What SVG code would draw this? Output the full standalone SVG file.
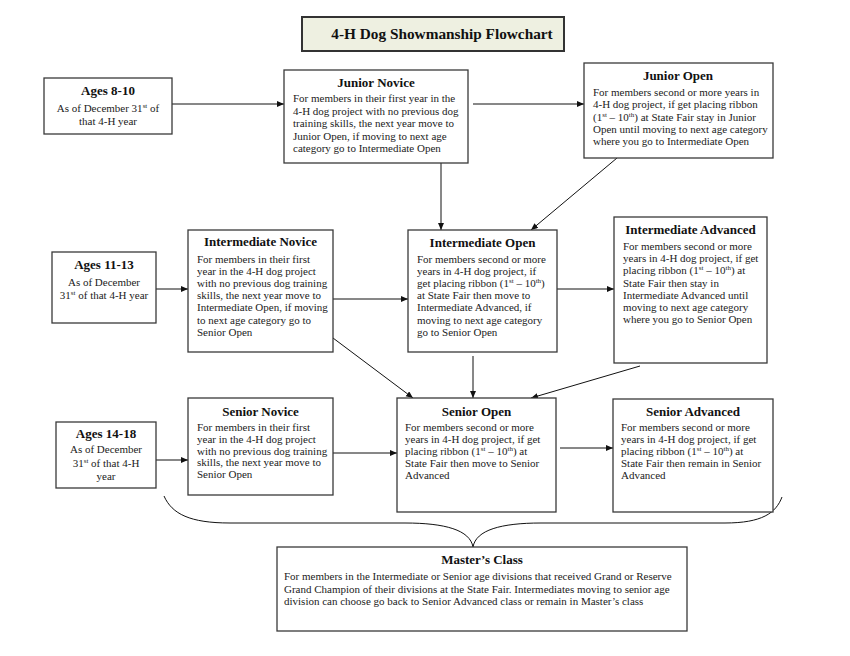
<svg xmlns="http://www.w3.org/2000/svg" width="850" height="656" viewBox="0 0 850 656">
<style>
.box{fill:#fff;stroke:#3a3a3a;stroke-width:1.3}
.t{font-family:"Liberation Serif","Times New Roman",serif;font-weight:bold;font-size:13px;fill:#111;text-anchor:middle}
.b{font-family:"Liberation Serif","Times New Roman",serif;font-size:11px;fill:#222}
.c{text-anchor:middle}
.s{font-size:7px}
.ln{stroke:#111;stroke-width:1;fill:none}
</style>
<defs>
<marker id="ah" markerUnits="userSpaceOnUse" markerWidth="8" markerHeight="7" refX="7" refY="3" orient="auto">
<path d="M0,0 L7,3 L0,6 z" fill="#111"/>
</marker>
</defs>
<rect width="850" height="656" fill="#fff"/>

<g id="title">
<rect x="302" y="17" width="262" height="34" fill="#eef0e1" stroke="#333" stroke-width="2"/>
<text x="442" y="39" class="t" style="font-size:15.3px">4-H Dog Showmanship Flowchart</text>
</g>

<g id="connectors">
<line class="ln" x1="172" y1="104" x2="284" y2="104" marker-end="url(#ah)"/>
<line class="ln" x1="473" y1="104" x2="584" y2="104" marker-end="url(#ah)"/>
<line class="ln" x1="441" y1="163" x2="441" y2="230" marker-end="url(#ah)"/>
<line class="ln" x1="617" y1="158" x2="531" y2="230" marker-end="url(#ah)"/>
<line class="ln" x1="156" y1="289" x2="188" y2="289" marker-end="url(#ah)"/>
<line class="ln" x1="333" y1="299" x2="408" y2="299" marker-end="url(#ah)"/>
<line class="ln" x1="557" y1="289" x2="614" y2="289" marker-end="url(#ah)"/>
<line class="ln" x1="333" y1="338" x2="413" y2="398" marker-end="url(#ah)"/>
<line class="ln" x1="473" y1="356" x2="473" y2="398" marker-end="url(#ah)"/>
<line class="ln" x1="640" y1="366" x2="531" y2="398" marker-end="url(#ah)"/>
<line class="ln" x1="156" y1="460" x2="188" y2="460" marker-end="url(#ah)"/>
<line class="ln" x1="333" y1="453" x2="397" y2="453" marker-end="url(#ah)"/>
<line class="ln" x1="560" y1="448" x2="613" y2="448" marker-end="url(#ah)"/>
<path class="ln" d="M164,496 C172,514 190,523 230,523 L405,523 C445,523 470,530 473,547 C476,530 501,523 541,523 L725,523 C762,523 776,513 782,497"/>
</g>

<g id="ages-8-10">
<rect class="box" x="44" y="78" width="128" height="56"/>
<text x="108" y="95" class="t">Ages 8-10</text>
<text class="b c" x="108" y="112">As of December 31<tspan class="s" dy="-4">st</tspan><tspan dy="4"> of</tspan></text>
<text class="b c" x="108" y="125">that 4-H year</text>
</g>

<g id="junior-novice">
<rect class="box" x="284" y="70" width="184" height="93"/>
<text x="376" y="87" class="t">Junior Novice</text>
<text class="b" x="293" y="102">For members in their first year in the</text>
<text class="b" x="293" y="114.5">4-H dog project with no previous dog</text>
<text class="b" x="293" y="127">training skills, the next year move to</text>
<text class="b" x="293" y="139.5">Junior Open, if moving to next age</text>
<text class="b" x="293" y="152">category go to Intermediate Open</text>
</g>

<g id="junior-open">
<rect class="box" x="584" y="63" width="189" height="95"/>
<text x="678" y="80" class="t">Junior Open</text>
<text class="b" x="593" y="96">For members second or more years in</text>
<text class="b" x="593" y="108.3">4-H dog project, if get placing ribbon</text>
<text class="b" x="593" y="120.6">(1<tspan class="s" dy="-4">st</tspan><tspan dy="4"> – 10</tspan><tspan class="s" dy="-4">th</tspan><tspan dy="4">) at State Fair stay in Junior</tspan></text>
<text class="b" x="593" y="132.9">Open until moving to next age category</text>
<text class="b" x="593" y="145.2">where you go to Intermediate Open</text>
</g>

<g id="ages-11-13">
<rect class="box" x="52" y="252" width="104" height="71"/>
<text x="104" y="269" class="t">Ages 11-13</text>
<text class="b c" x="104" y="286">As of December</text>
<text class="b c" x="104" y="299">31<tspan class="s" dy="-4">st</tspan><tspan dy="4"> of that 4-H year</tspan></text>
</g>

<g id="intermediate-novice">
<rect class="box" x="188" y="230" width="145" height="122"/>
<text x="260.5" y="246" class="t">Intermediate Novice</text>
<text class="b" x="197" y="262.5">For members in their first</text>
<text class="b" x="197" y="274.7">year in the 4-H dog project</text>
<text class="b" x="197" y="286.9">with no previous dog training</text>
<text class="b" x="197" y="299.1">skills, the next year move to</text>
<text class="b" x="197" y="311.3">Intermediate Open, if moving</text>
<text class="b" x="197" y="323.5">to next age category go to</text>
<text class="b" x="197" y="335.7">Senior Open</text>
</g>

<g id="intermediate-open">
<rect class="box" x="408" y="230" width="149" height="122"/>
<text x="482.5" y="247" class="t">Intermediate Open</text>
<text class="b" x="417" y="262.5">For members second or more</text>
<text class="b" x="417" y="274.7">years in 4-H dog project, if</text>
<text class="b" x="417" y="286.9">get placing ribbon (1<tspan class="s" dy="-4">st</tspan><tspan dy="4"> – 10</tspan><tspan class="s" dy="-4">th</tspan><tspan dy="4">)</tspan></text>
<text class="b" x="417" y="299.1">at State Fair then move to</text>
<text class="b" x="417" y="311.3">Intermediate Advanced, if</text>
<text class="b" x="417" y="323.5">moving to next age category</text>
<text class="b" x="417" y="335.7">go to Senior Open</text>
</g>

<g id="intermediate-advanced">
<rect class="box" x="614" y="217" width="153" height="146"/>
<text x="690.5" y="234" class="t">Intermediate Advanced</text>
<text class="b" x="623" y="250">For members second or more</text>
<text class="b" x="623" y="262.2">years in 4-H dog project, if get</text>
<text class="b" x="623" y="274.4">placing ribbon (1<tspan class="s" dy="-4">st</tspan><tspan dy="4"> – 10</tspan><tspan class="s" dy="-4">th</tspan><tspan dy="4">) at</tspan></text>
<text class="b" x="623" y="286.6">State Fair then stay in</text>
<text class="b" x="623" y="298.8">Intermediate Advanced until</text>
<text class="b" x="623" y="311">moving to next age category</text>
<text class="b" x="623" y="323.2">where you go to Senior Open</text>
</g>

<g id="ages-14-18">
<rect class="box" x="56" y="422" width="100" height="66"/>
<text x="106" y="438" class="t">Ages 14-18</text>
<text class="b c" x="106" y="453">As of December</text>
<text class="b c" x="106" y="466.5">31<tspan class="s" dy="-4">st</tspan><tspan dy="4"> of that 4-H</tspan></text>
<text class="b c" x="106" y="480">year</text>
</g>

<g id="senior-novice">
<rect class="box" x="188" y="398" width="145" height="97"/>
<text x="260.5" y="416" class="t">Senior Novice</text>
<text class="b" x="197" y="431">For members in their first</text>
<text class="b" x="197" y="442.8">year in the 4-H dog project</text>
<text class="b" x="197" y="454.6">with no previous dog training</text>
<text class="b" x="197" y="466.4">skills, the next year move to</text>
<text class="b" x="197" y="478.2">Senior Open</text>
</g>

<g id="senior-open">
<rect class="box" x="397" y="398" width="159" height="114"/>
<text x="476.5" y="416" class="t">Senior Open</text>
<text class="b" x="405" y="431">For members second or more</text>
<text class="b" x="405" y="443">years in 4-H dog project, if get</text>
<text class="b" x="405" y="455">placing ribbon (1<tspan class="s" dy="-4">st</tspan><tspan dy="4"> – 10</tspan><tspan class="s" dy="-4">th</tspan><tspan dy="4">) at</tspan></text>
<text class="b" x="405" y="467">State Fair then move to Senior</text>
<text class="b" x="405" y="479">Advanced</text>
</g>

<g id="senior-advanced">
<rect class="box" x="613" y="399" width="160" height="113"/>
<text x="693" y="416" class="t">Senior Advanced</text>
<text class="b" x="621" y="431">For members second or more</text>
<text class="b" x="621" y="443">years in 4-H dog project, if get</text>
<text class="b" x="621" y="455">placing ribbon (1<tspan class="s" dy="-4">st</tspan><tspan dy="4"> – 10</tspan><tspan class="s" dy="-4">th</tspan><tspan dy="4">) at</tspan></text>
<text class="b" x="621" y="467">State Fair then remain in Senior</text>
<text class="b" x="621" y="479">Advanced</text>
</g>

<g id="masters-class">
<rect class="box" x="277" y="547" width="410" height="84"/>
<text x="482" y="564" class="t">Master’s Class</text>
<text class="b" x="284" y="580">For members in the Intermediate or Senior age divisions that received Grand or Reserve</text>
<text class="b" x="284" y="592.5">Grand Champion of their divisions at the State Fair. Intermediates moving to senior age</text>
<text class="b" x="284" y="605">division can choose go back to Senior Advanced class or remain in Master’s class</text>
</g>
</svg>
